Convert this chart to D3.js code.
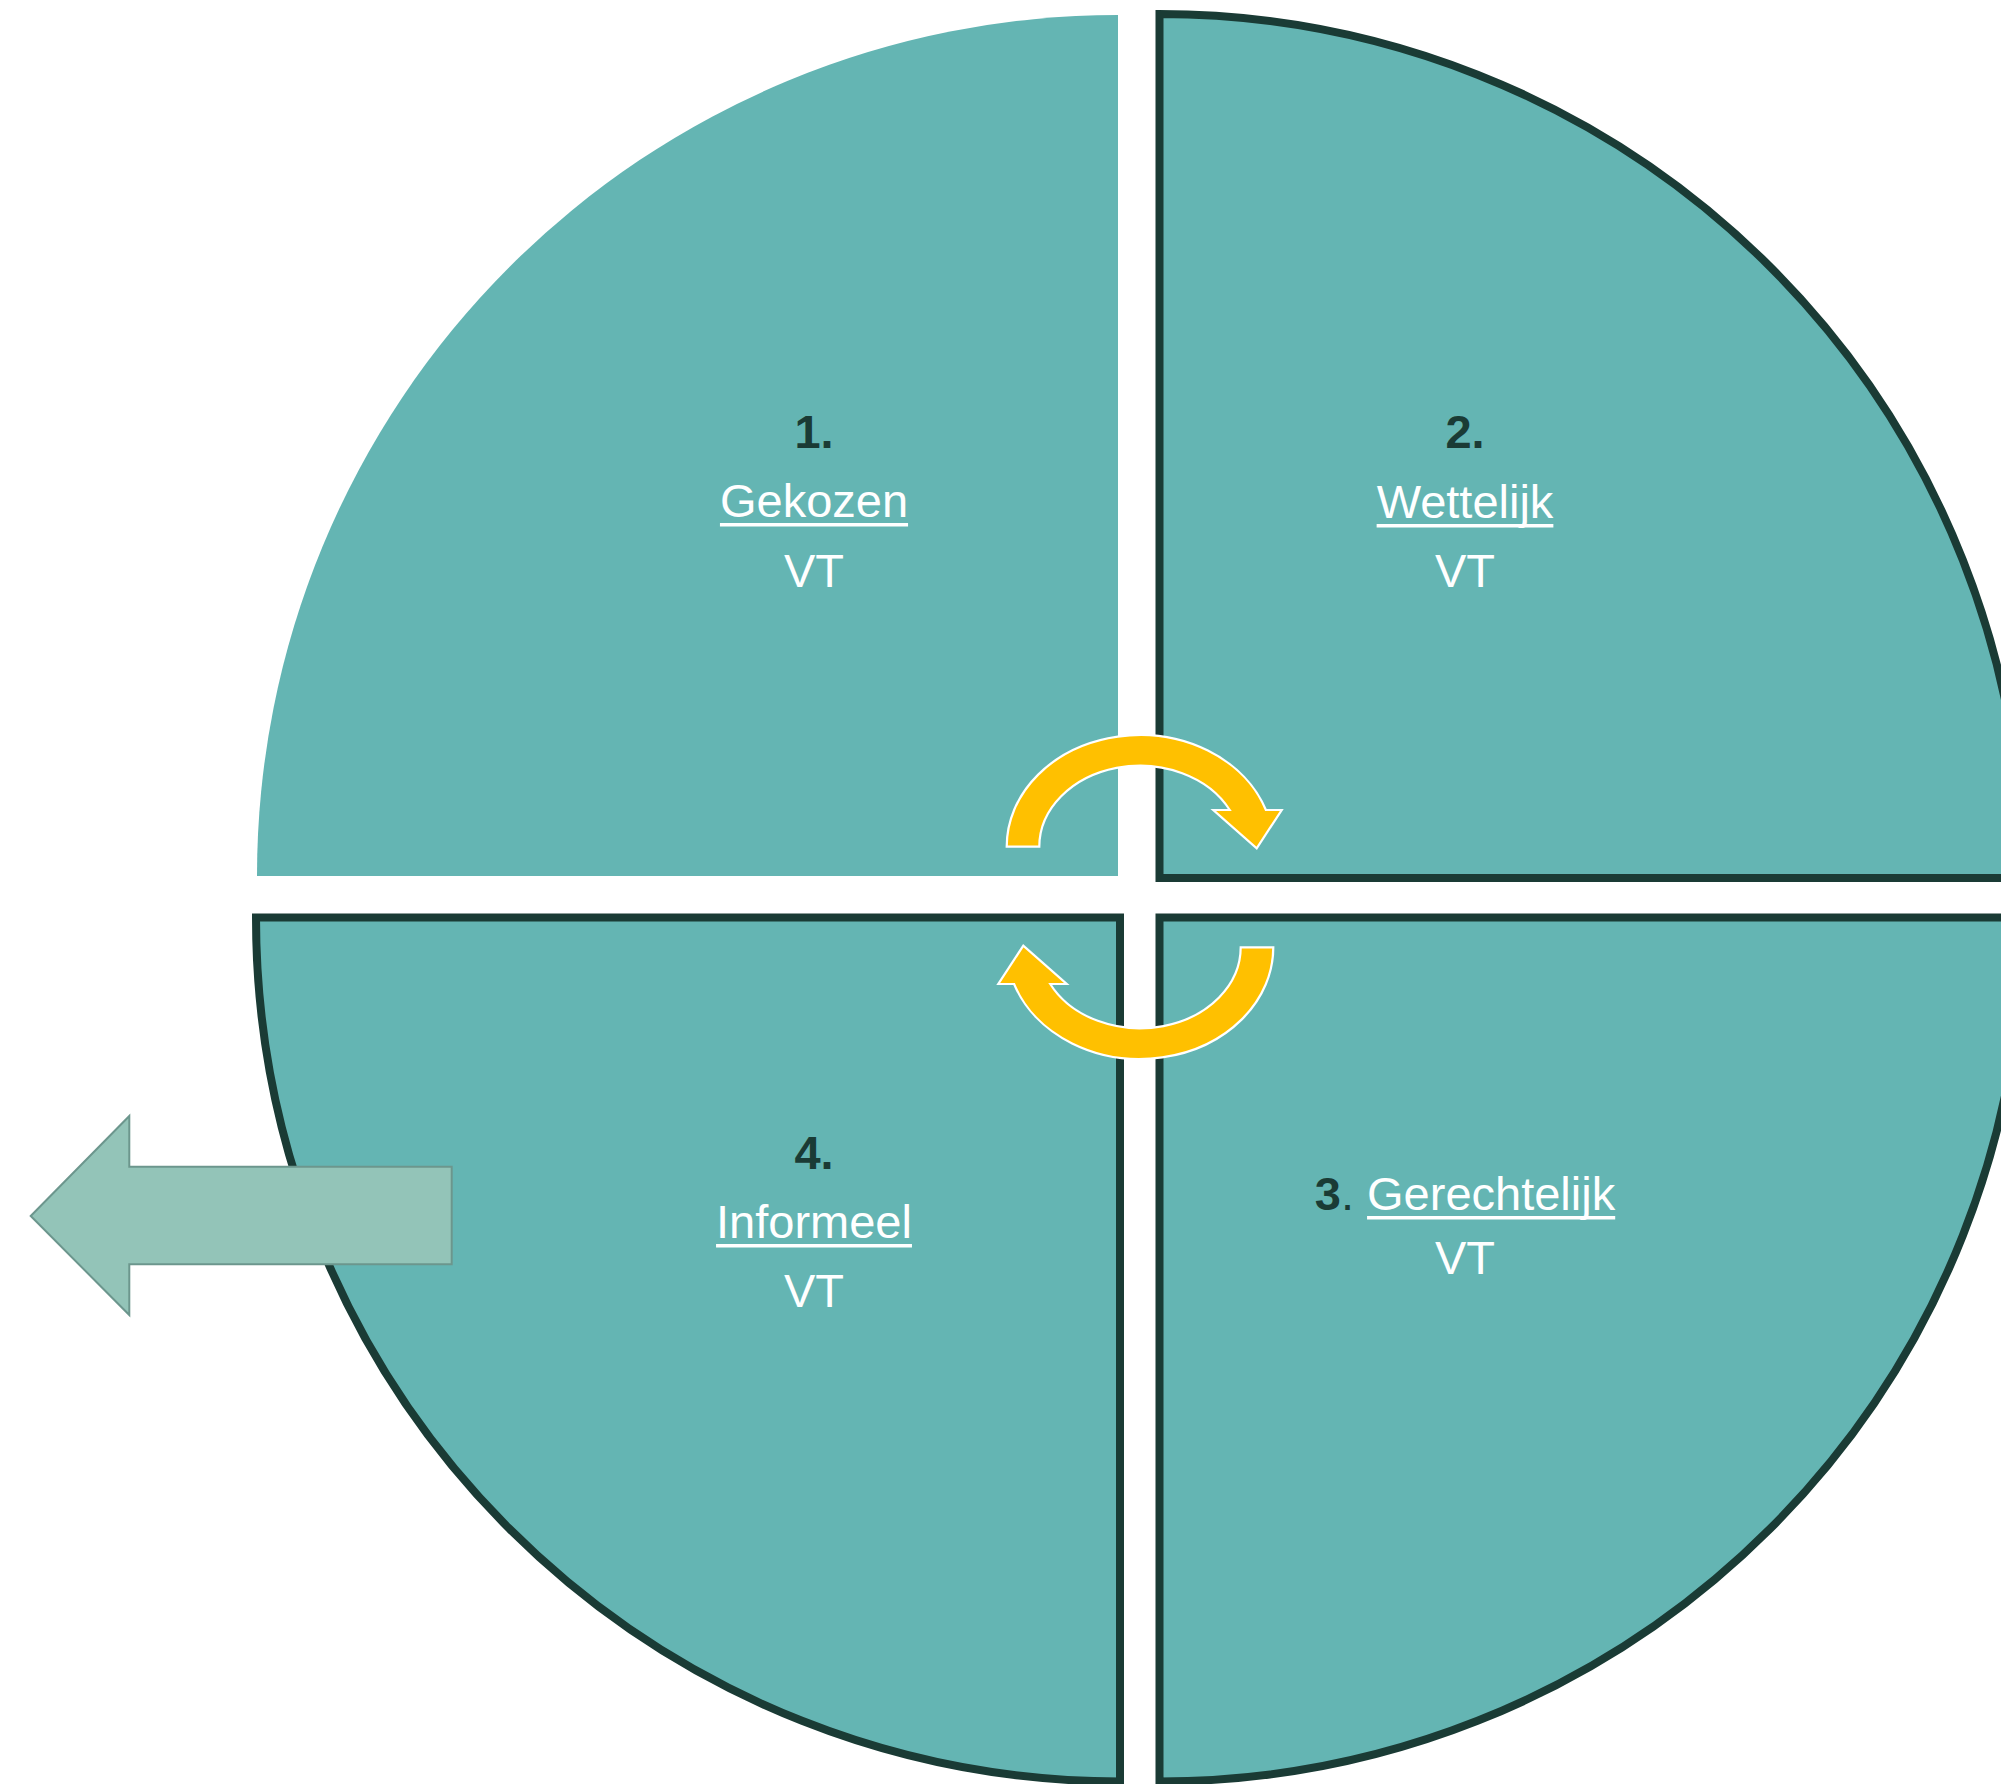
<!DOCTYPE html>
<html>
<head>
<meta charset="utf-8">
<script src="https://cdn.jsdelivr.net/npm/d3@7"></script>
<style>
  html, body { margin: 0; padding: 0; background: #ffffff; }
  svg { display: block; }
  text { font-family: Arial, "Liberation Sans", sans-serif; white-space: pre; }
</style>
</head>
<body>
<script>
// ---- content ----
const numbers   = ["1.", "2.", "3", "4."];
const titles    = ["Gekozen", "Wettelijk", "Gerechtelijk", "Informeel"];
const subtitles = ["VT", "VT", "VT", "VT"];

// ---- layout ----
const W = 2001, H = 1784;
const TEAL = "#64B5B3", DARK = "#1A3B35", YELLOW = "#FFC000";

const quads = [
  { cx: 1118,   cy: 876,   r: 861, a0: -Math.PI/2, a1: 0,           stroke: false, tx: 814,  b: [448, 517, 587] },
  { cx: 1159.5, cy: 878,   r: 864, a0: 0,          a1: Math.PI/2,   stroke: true,  tx: 1465, b: [448, 518, 587] },
  { cx: 1159.5, cy: 917.5, r: 864, a0: Math.PI/2,  a1: Math.PI,     stroke: true,  tx: 1465, b: [null, 1210, 1274], inline: true },
  { cx: 1120,   cy: 917.5, r: 864, a0: Math.PI,    a1: 3*Math.PI/2, stroke: true,  tx: 814,  b: [1169, 1238, 1307] }
];

const svg = d3.select("body").append("svg").attr("width", W).attr("height", H);

const arc = d3.arc().innerRadius(0);

// quadrants
svg.selectAll("path.quad").data(quads).join("path")
  .attr("class", "quad")
  .attr("transform", d => `translate(${d.cx},${d.cy})`)
  .attr("d", d => arc({ outerRadius: d.r, startAngle: d.a0, endAngle: d.a1 }))
  .attr("fill", TEAL)
  .attr("stroke", d => d.stroke ? DARK : "none")
  .attr("stroke-width", 8)
  .attr("stroke-linejoin", "miter");

// big left arrow
const bigArrow = [[30.7,1216],[129.3,1116],[129.3,1166.7],[451.7,1166.7],[451.7,1264.3],[129.3,1264.3],[129.3,1315]];
svg.append("path")
  .attr("d", d3.line()(bigArrow) + "Z")
  .attr("fill", "#93C4B8")
  .attr("stroke", "#6C968D")
  .attr("stroke-width", 2);

// curved arrows
const C = { x: 1140, y: 846.7 };
const outer = { rx: 133.3, ry: 111.7 }, inner = { rx: 100.7, ry: 81 };
const headY = 810;
function xAt(e, y) { const t = (y - C.y) / e.ry; return C.x + e.rx * Math.sqrt(1 - t*t); }
const oX = xAt(outer, headY), iX = xAt(inner, headY);
const dTop = `M${C.x - outer.rx},${C.y} A${outer.rx},${outer.ry} 0 0 1 ${oX},${headY}`
  + ` L1281.7,${headY} L1256.7,848.3 L1213.3,${headY} L${iX},${headY}`
  + ` A${inner.rx},${inner.ry} 0 0 0 ${C.x - inner.rx},${C.y} Z`;

svg.append("path").attr("d", dTop)
  .attr("fill", YELLOW).attr("stroke", "#ffffff").attr("stroke-width", 2.2).attr("stroke-linejoin", "miter");
svg.append("path").attr("d", dTop)
  .attr("transform", "rotate(180,1140,897)")
  .attr("fill", YELLOW).attr("stroke", "#ffffff").attr("stroke-width", 2.2).attr("stroke-linejoin", "miter");

// labels
const NUM_SIZE = 47, TXT_SIZE = 47;
quads.forEach((q, i) => {
  const g = svg.append("g");
  if (!q.inline) {
    g.append("text").attr("x", q.tx).attr("y", q.b[0])
      .attr("text-anchor", "middle").attr("font-weight", "bold")
      .attr("font-size", NUM_SIZE).attr("fill", DARK).text(numbers[i]);
    const t = g.append("text").attr("x", q.tx).attr("y", q.b[1])
      .attr("text-anchor", "middle").attr("font-size", TXT_SIZE).attr("fill", "#ffffff").text(titles[i]);
    const w = t.node().getComputedTextLength();
    g.append("rect").attr("x", q.tx - w/2).attr("y", q.b[1] + 6).attr("width", w).attr("height", 3.5).attr("fill", "#ffffff");
  } else {
    const t = g.append("text").attr("x", q.tx).attr("y", q.b[1])
      .attr("text-anchor", "middle").attr("font-size", TXT_SIZE);
    t.append("tspan").attr("font-weight", "bold").attr("font-size", NUM_SIZE).attr("fill", DARK).text(numbers[i]);
    t.append("tspan").attr("fill", DARK).text(". ");
    t.append("tspan").attr("fill", "#ffffff").text(titles[i]);
    const node = t.node();
    const idx = numbers[i].length + 2;
    const x0 = node.getStartPositionOfChar(idx).x;
    const w = node.getSubStringLength(idx, titles[i].length);
    g.append("rect").attr("x", x0).attr("y", q.b[1] + 6).attr("width", w).attr("height", 3.5).attr("fill", "#ffffff");
  }
  g.append("text").attr("x", q.tx).attr("y", q.b[2])
    .attr("text-anchor", "middle").attr("font-size", TXT_SIZE).attr("fill", "#ffffff").text(subtitles[i]);
});
</script>
</body>
</html>
